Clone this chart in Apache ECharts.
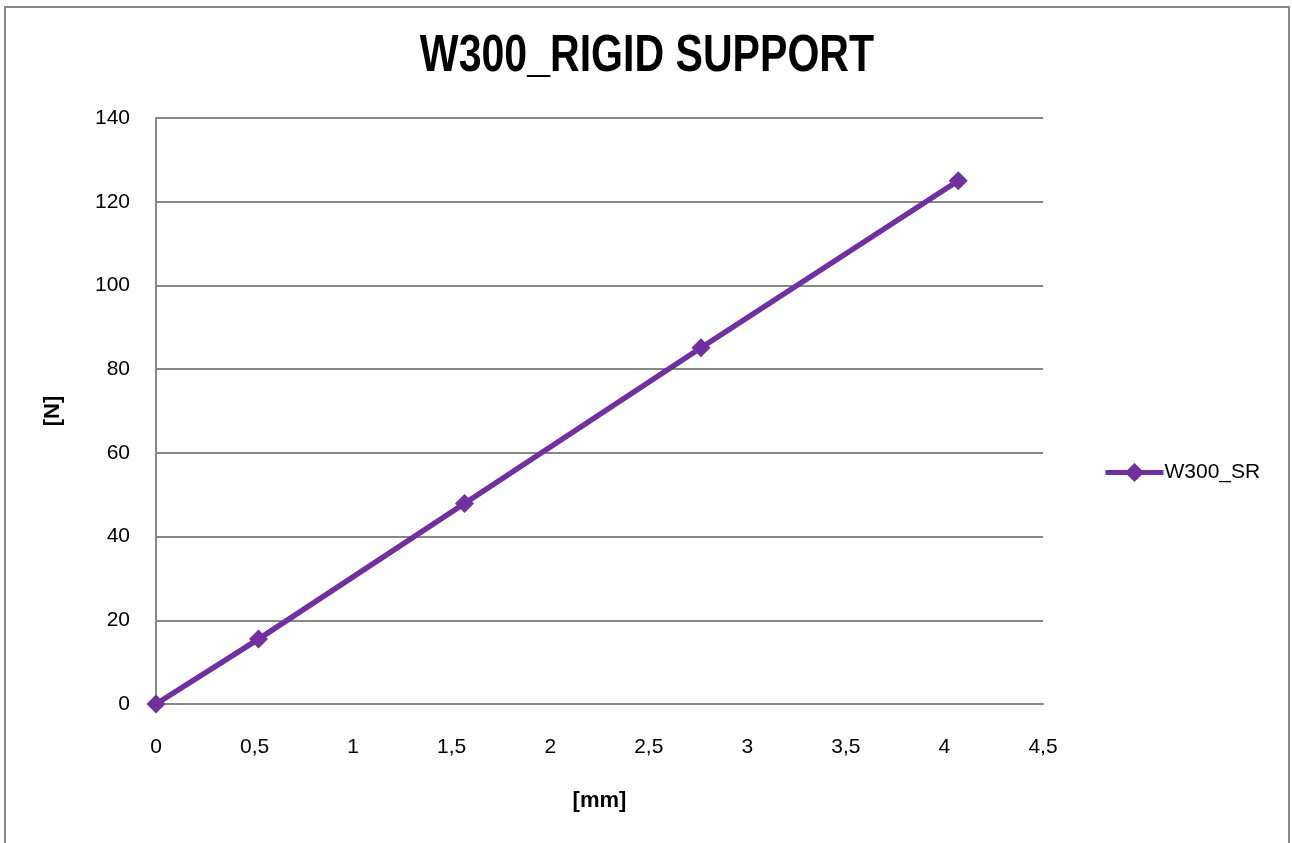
<!DOCTYPE html>
<html>
<head>
<meta charset="utf-8">
<script src="https://cdn.jsdelivr.net/npm/echarts@6/dist/echarts.min.js"></script>
<style>
  html, body { margin: 0; padding: 0; background: #fff; }
  #chart { width: 1292px; height: 843px; }
</style>
</head>
<body>
<div id="chart"></div>
<script>
// Load test: displacement [mm] vs force [N]
const titleText = 'W300_RIGID SUPPORT';
const seriesName = 'W300_SR';
const displacementMm = [0, 0.52, 1.565, 2.765, 4.07];
const forceN = [0, 15.5, 47.9, 85.1, 125];
const yTicks = [0, 20, 40, 60, 80, 100, 120, 140];
const xTicks = [0, 0.5, 1, 1.5, 2, 2.5, 3, 3.5, 4, 4.5];

const FONT = '"Liberation Sans Narrow", "Arial Narrow", "Liberation Sans", sans-serif';
const PURPLE = '#7030A0';
const GRID_GRAY = '#888888';

const points = displacementMm.map((x, i) => [x, forceN[i]]);

const chart = echarts.init(document.getElementById('chart'), null, { renderer: 'canvas' });
chart.setOption({
  backgroundColor: '#ffffff',
  animation: false,
  legend: {
    data: [seriesName],
    orient: 'vertical',
    left: 1098,
    top: 457,
    itemWidth: 58,
    itemHeight: 24,
    itemGap: 5,
    lineStyle: { width: 5, color: PURPLE },
    textStyle: { fontFamily: FONT, fontSize: 21, color: '#000', padding: [0, 0, 0, -4] }
  },
  graphic: [
    {
      // outer chart frame (open at the bottom edge of the page)
      type: 'rect',
      shape: { x: 5, y: 7, width: 1284, height: 860 },
      style: { fill: 'none', stroke: GRID_GRAY, lineWidth: 2 },
      silent: true
    },
    {
      // condensed bold title
      type: 'text',
      x: 647,
      y: 57,
      scaleX: 0.79,
      style: {
        text: titleText,
        font: 'bold 52px "Liberation Sans", sans-serif',
        fill: '#000',
        textAlign: 'center',
        textVerticalAlign: 'middle'
      },
      silent: true
    }
  ],
  grid: { left: 156, right: 249, top: 118, bottom: 139, containLabel: false },
  xAxis: {
    type: 'value',
    min: 0,
    max: xTicks[xTicks.length - 1],
    interval: 0.5,
    name: '[mm]',
    nameLocation: 'middle',
    nameGap: 86,
    nameTextStyle: { fontFamily: FONT, fontSize: 22, fontWeight: 'bold', color: '#000' },
    axisLine: { show: true, lineStyle: { color: GRID_GRAY, width: 2 } },
    axisTick: { show: false },
    splitLine: { show: false },
    axisLabel: {
      margin: 33,
      fontFamily: FONT, fontSize: 21, color: '#000',
      formatter: v => String(v).replace('.', ',')
    }
  },
  yAxis: {
    type: 'value',
    min: 0,
    max: yTicks[yTicks.length - 1],
    interval: 20,
    name: '[N]',
    nameLocation: 'middle',
    nameGap: 92,
    nameRotate: 90,
    nameTextStyle: { fontFamily: FONT, fontSize: 22, fontWeight: 'bold', color: '#000' },
    axisLine: { show: true, lineStyle: { color: GRID_GRAY, width: 2 } },
    axisTick: { show: false },
    splitLine: { show: true, lineStyle: { color: GRID_GRAY, width: 2 } },
    axisLabel: { margin: 26, fontFamily: FONT, fontSize: 21, color: '#000' }
  },
  series: [{
    name: seriesName,
    type: 'line',
    data: points,
    symbol: 'diamond',
    symbolSize: 19,
    lineStyle: { color: PURPLE, width: 5.5 },
    itemStyle: { color: PURPLE },
    z: 5
  }]
});
</script>
</body>
</html>
